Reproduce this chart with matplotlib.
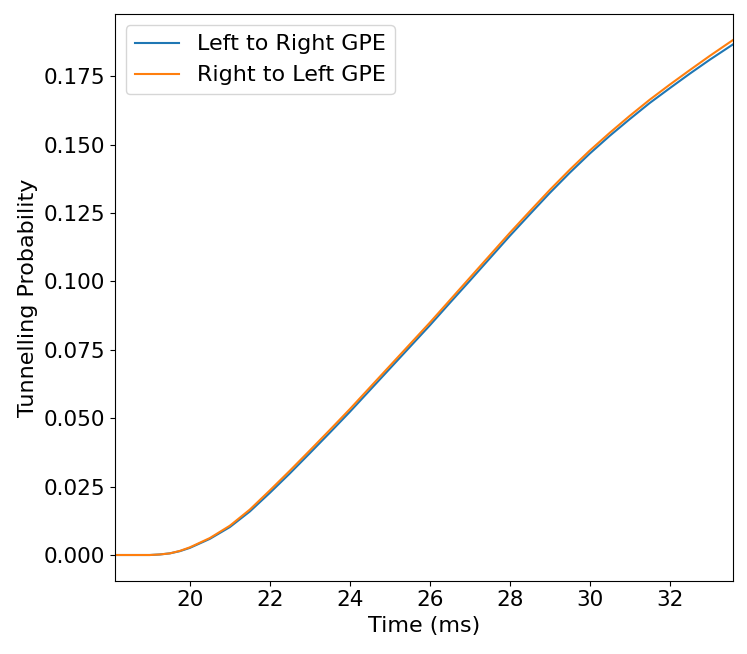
import matplotlib
matplotlib.use("Agg")
import matplotlib.pyplot as plt

# time in ms
time = [18.12, 18.5, 19.0, 19.25, 19.5, 19.75, 20.0, 20.5, 21.0, 21.5, 22.0,
        22.5, 23.0, 23.5, 24.0, 24.5, 25.0, 25.5, 26.0, 26.5, 27.0, 27.5,
        28.0, 28.5, 29.0, 29.5, 30.0, 30.5, 31.0, 31.5, 32.0, 32.5, 33.0, 33.58]

left_to_right = [0.0, 0.0, 0.0, 0.0002, 0.0006, 0.0014, 0.0026, 0.0059, 0.0102,
                 0.0159, 0.0227, 0.0298, 0.0372, 0.0447, 0.0523, 0.0602, 0.0681,
                 0.0760, 0.0839, 0.0921, 0.1002, 0.1084, 0.1166, 0.1245, 0.1323,
                 0.1397, 0.1467, 0.1532, 0.1593, 0.1652, 0.1706, 0.1759, 0.1810,
                 0.1866]

right_to_left = [0.0, 0.0, 0.0, 0.0002, 0.0006, 0.0015, 0.0028, 0.0062, 0.0107,
                 0.0166, 0.0236, 0.0308, 0.0382, 0.0457, 0.0533, 0.0612, 0.0691,
                 0.0770, 0.0849, 0.0931, 0.1013, 0.1095, 0.1177, 0.1256, 0.1334,
                 0.1408, 0.1478, 0.1543, 0.1605, 0.1664, 0.1719, 0.1772, 0.1824,
                 0.1882]

plt.rcParams['font.size'] = 16
plt.rcParams['xtick.labelsize'] = 15.5
plt.rcParams['ytick.labelsize'] = 15.5

fig = plt.figure(figsize=(7.47, 6.54), dpi=100)
ax = fig.add_subplot(111)
fig.subplots_adjust(left=0.1535, right=0.981, bottom=0.112, top=0.978)

ax.plot(time, left_to_right, label="Left to Right GPE")
ax.plot(time, right_to_left, label="Right to Left GPE")
ax.set_xlim(time[0], time[-1])
ax.set_xlabel("Time (ms)")
ax.set_ylabel("Tunnelling Probability")
ax.legend(loc="upper left")

fig.savefig("out.png", dpi=100)
